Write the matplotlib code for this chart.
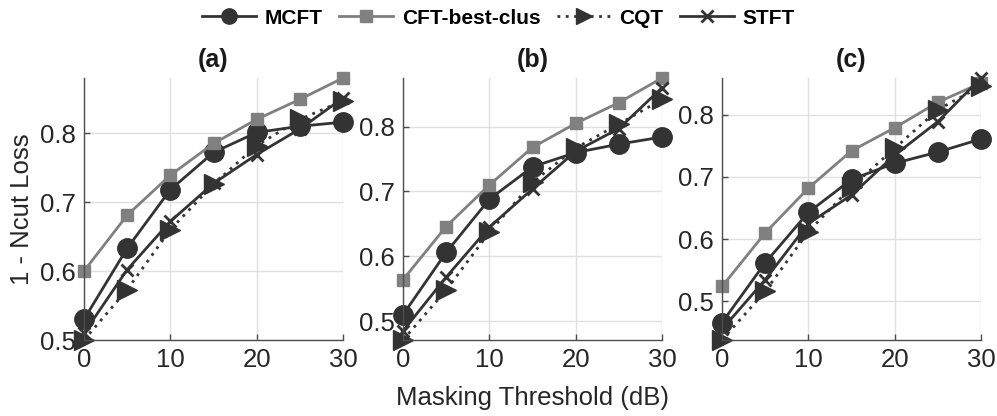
import matplotlib
matplotlib.use("Agg")
import matplotlib.pyplot as plt
from matplotlib.lines import Line2D

plt.rcParams['font.family'] = ['Liberation Sans', 'DejaVu Sans']

x_db = [0, 5, 10, 15, 20, 25, 30]
panel_titles = ['(a)', '(b)', '(c)']
series_names = ['MCFT', 'CFT-best-clus', 'CQT', 'STFT']

mcft_a = [0.530, 0.633, 0.718, 0.772, 0.801, 0.810, 0.816]
cft_a = [0.600, 0.681, 0.739, 0.785, 0.820, 0.849, 0.880]
cqt_a = [0.500, 0.573, 0.660, 0.726, 0.782, 0.820, 0.847]
stft_a = [0.510, 0.602, 0.672, 0.727, 0.769, 0.806, 0.851]

mcft_b = [0.510, 0.606, 0.688, 0.738, 0.760, 0.773, 0.784]
cft_b = [0.564, 0.646, 0.710, 0.768, 0.805, 0.837, 0.875]
cqt_b = [0.471, 0.548, 0.637, 0.714, 0.767, 0.804, 0.842]
stft_b = [0.485, 0.568, 0.645, 0.704, 0.762, 0.797, 0.860]

mcft_c = [0.466, 0.562, 0.643, 0.696, 0.722, 0.740, 0.761]
cft_c = [0.524, 0.610, 0.682, 0.742, 0.779, 0.820, 0.851]
cqt_c = [0.438, 0.516, 0.612, 0.684, 0.746, 0.808, 0.846]
stft_c = [0.455, 0.535, 0.625, 0.671, 0.735, 0.789, 0.859]

x_ticks = [0, 10, 20, 30]
y_ticks = [0.5, 0.6, 0.7, 0.8]

panels = [
    (mcft_a, cft_a, cqt_a, stft_a),
    (mcft_b, cft_b, cqt_b, stft_b),
    (mcft_c, cft_c, cqt_c, stft_c),
]

DARK = '#333333'
GRAY = '#808080'
styles = [
    dict(color=DARK, lw=2.0, ls='-', marker='o', ms=14, mfc=DARK, mec=DARK),
    dict(color=GRAY, lw=2.0, ls='-', marker='s', ms=8, mfc=GRAY, mec=GRAY),
    dict(color=DARK, lw=2.0, ls=(0, (1, 2)), marker='>', ms=14, mfc=DARK, mec=DARK),
    dict(color=DARK, lw=2.0, ls='-', marker='x', ms=9, mfc=DARK, mec=DARK, mew=2.0),
]

fig = plt.figure(figsize=(9.97, 4.16), dpi=100)
W, H = 997, 416
lefts = [84, 403, 722]
ax_w = 259
top_px, bot_px = 78, 340

axes = []
for i, (left, data, title) in enumerate(zip(lefts, panels, panel_titles)):
    ax = fig.add_axes([left / W, 1 - bot_px / H, ax_w / W, (bot_px - top_px) / H])
    for vals, st in zip(data, styles):
        ax.plot(x_db, vals, clip_on=False, **st)
    allv = [v for s in data for v in s]
    ax.set_xlim(0, 30)
    ax.set_ylim(min(allv), max(allv))
    ax.set_xticks(x_ticks)
    ax.set_yticks(y_ticks)
    ax.set_yticklabels([f'{t:.1f}' for t in y_ticks])
    ax.grid(True, color='#e0e0e0', lw=1.0)
    ax.set_axisbelow(True)
    for sp in ['top', 'right']:
        ax.spines[sp].set_visible(False)
    for sp in ['left', 'bottom']:
        ax.spines[sp].set_color('#4d4d4d')
        ax.spines[sp].set_linewidth(1.0)
    ax.tick_params(direction='in', length=4, width=1.0, colors='#4d4d4d',
                   labelcolor='#262626', labelsize=18.5, pad=6)
    ax.set_title(title, fontsize=18, fontweight='bold', pad=8, color='#1a1a1a')
    axes.append(ax)

axes[0].set_ylabel('1 - Ncut Loss', fontsize=18.5, color='#262626', labelpad=4)
fig.text((lefts[1] + ax_w / 2) / W, 1 - 398 / H, 'Masking Threshold (dB)',
         ha='center', va='center', fontsize=18.5, color='#262626')

handles = [Line2D([], [], **st) for st in styles]
handles[0].set_markersize(11)
handles[2].set_markersize(11)
leg = fig.legend(handles, series_names, loc='center', bbox_to_anchor=(0.5, 1 - 18 / H),
                 ncol=4, frameon=False, handlelength=2.6, columnspacing=0.8,
                 handletextpad=0.4, prop=dict(size=15, weight='bold'))

fig.savefig('out.png', dpi=100)
